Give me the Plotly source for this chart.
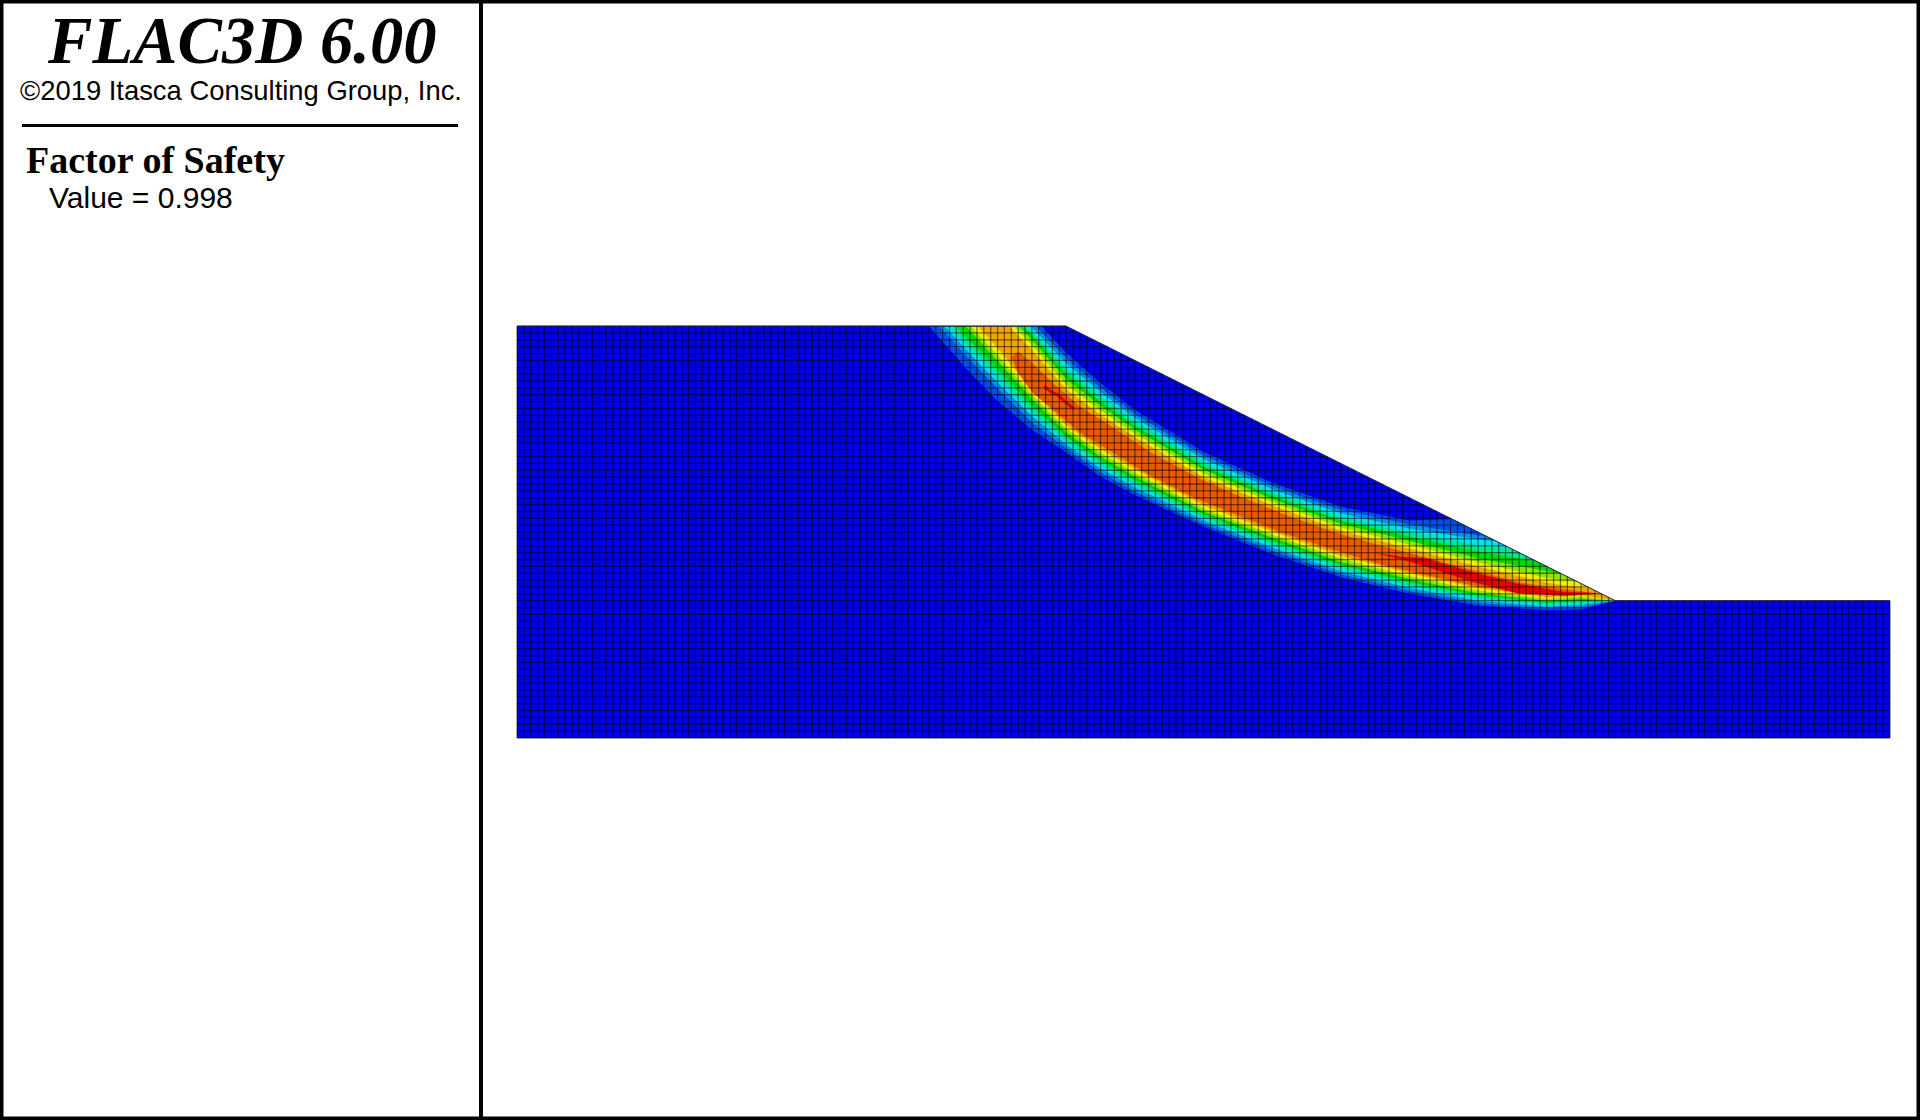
"""
FLAC3D 6.00 slope model: factor of safety run with the shear strain contour
on the zone mesh. Contour outlines were read off the original screen capture.
"""

import plotly.graph_objects as go

# =============================================================================
# DATA (model units: one zone = 1.0)
# =============================================================================

N_COLS = 200
N_ROWS = 60

SURFACE_X = [0, 80, 160, 200]
SURFACE_Y = [60, 60, 20, 20]

BAND_X = [55, 60, 65, 70, 75, 80, 85, 90, 100, 110, 120, 130, 140, 150, 155, 160]

# contour outlines, outermost level first; "upper" is the side facing the slope
L1_UPPER = [82.3, 77.1, 71.9, 66.7, 61.5, 56.1, 51.7, 47.8, 41.7, 37.2, 33.7, 31.7, 32, 32, 32, 32]
L1_LOWER = [65.6, 60, 54.3, 49.1, 44.9, 41.6, 38.1, 35.4, 30.8, 26.8, 23.4, 21, 19.3, 18.6, 18.7, 20]
L2_UPPER = [81.5, 76.3, 71.1, 65.9, 60.6, 55.3, 51, 47.2, 41.2, 36.7, 33.2, 31.1, 29.5, 29, 28, 27]
L2_LOWER = [67.2, 61.6, 56.1, 50.9, 46, 42.2, 38.7, 35.9, 31.2, 27.3, 23.85, 21.4, 19.65, 18.9, 19.05, 20]
L3_UPPER = [80.6, 75.4, 70.2, 65, 59.8, 54.6, 50.4, 46.65, 40.65, 36.25, 32.7, 30.5, 28.9, 28, 27, 26]
L3_LOWER = [68.1, 62.5, 57, 51.8, 46.9, 42.75, 39.25, 36.5, 31.7, 27.75, 24.3, 21.85, 20, 19.15, 19.4, 20]
L4_UPPER = [80, 74.8, 69.6, 64.4, 59.2, 53.8, 49.7, 46.1, 40.1, 35.8, 32.2, 29.9, 28, 27, 26, 25]
L4_LOWER = [68.9, 63.3, 57.9, 52.8, 47.6, 43.3, 39.8, 37, 32.1, 28.2, 24.75, 22.3, 20.4, 19.45, 19.7, 20]
L5_UPPER = [79.6, 74.4, 69.2, 64, 58.7, 53.1, 49.05, 45.5, 39.6, 35.3, 31.7, 29.35, 27.2, 25.5, 25, 24]
L5_LOWER = [69.9, 64.3, 58.8, 53.7, 48.4, 43.9, 40.4, 37.55, 32.55, 28.7, 25.2, 22.7, 20.75, 19.7, 20, 20]
L6_UPPER = [78.8, 73.6, 68.4, 63.2, 58, 52.3, 48.4, 44.9, 39.1, 34.8, 31.2, 28.75, 26.2, 24.3, 23.5, 23]
L6_LOWER = [71.5, 65.9, 60.4, 55, 49.4, 44.5, 41, 38.1, 33, 29.2, 25.65, 23.15, 21.1, 20, 20.3, 20]
L7_UPPER = [78.1, 72.9, 67.7, 62.5, 57.3, 51.5, 47.7, 44.35, 38.55, 34.35, 30.7, 28.2, 25.6, 23.3, 22.6, 22]
L7_LOWER = [72.3, 66.7, 61.2, 55.7, 50, 45.05, 41.55, 38.6, 33.4, 29.65, 26.1, 23.55, 21.5, 20.25, 20.6, 20]
L8_UPPER = [77.4, 72.2, 67, 61.8, 56.5, 50.8, 47.1, 43.8, 38, 33.9, 30.2, 27.6, 25, 22.6, 21.9, 21.5]
L8_LOWER = [73.5, 67.9, 62.3, 56.8, 50.7, 45.6, 42.1, 39.2, 33.9, 30.1, 26.55, 24, 21.85, 20.5, 20.8, 20]

CORE_X = [72, 73, 75, 78, 82, 85.5, 92, 99, 105.5, 112, 119, 125.5, 132, 139, 146, 152.5, 157.7]
CORE_UPPER = [55.5, 56.3, 54.7, 51.8, 48.3, 46.1, 41.8, 38, 35.1, 32.5, 30, 28.1, 26.4, 24.5, 22.7, 21.7, 21]
CORE_LOWER = [55.5, 53.2, 50.4, 47.9, 44.5, 42.4, 38.4, 34.8, 32.2, 29.7, 27.4, 25.4, 23.8, 22.3, 21.2, 20.6, 21]

PEAK_X = [124.9, 128.9, 132.3, 139, 145.7, 152.4, 157.7]
PEAK_UPPER = [27, 26.4, 26.2, 24.2, 22.5, 21.3, 21.1]
PEAK_LOWER = [27, 26, 25, 22.8, 21.1, 20.8, 21.1]

STREAK_X = [76.8, 77.8, 78.8, 79.8, 81.1]
STREAK_Y = [51.2, 50.4, 50, 49, 48]

LEVELS = [
    (L1_UPPER, L1_LOWER, '#0050e8'),
    (L2_UPPER, L2_LOWER, '#0094e8'),
    (L3_UPPER, L3_LOWER, '#00e4e4'),
    (L4_UPPER, L4_LOWER, '#00e890'),
    (L5_UPPER, L5_LOWER, '#00dc00'),
    (L6_UPPER, L6_LOWER, '#8ce800'),
    (L7_UPPER, L7_LOWER, '#f0f000'),
    (L8_UPPER, L8_LOWER, '#f0a800'),
]

BODY_BLUE = '#0000ea'
CORE_ORANGE = '#ea5a00'
PEAK_RED = '#e60000'
MESH_LINE = 'rgba(0, 0, 0, 0.5)'
EDGE_LINE = '#202050'

# page geometry, px
WIDTH = 1920
HEIGHT = 1120
MESH_LEFT = 517
MESH_BOTTOM = 738
ZONE_PX = 6.865


def surface_height(col):
    """Top of the model at a mesh column."""
    if col <= 80:
        return 60
    if col <= 160:
        return 60 - (col - 80) / 2
    return 20


def row_end(row):
    """Last column of a mesh row."""
    if row <= 20:
        return 200
    return 80 + (60 - row) * 2


# =============================================================================
# FIGURE
# =============================================================================

def add_band(fig, x, upper, lower, color):
    fig.add_trace(go.Scatter(
        x=list(x) + list(x)[::-1],
        y=list(upper) + list(lower)[::-1],
        mode='lines',
        line=dict(width=0),
        fill='toself',
        fillcolor=color,
        hoverinfo='skip',
        showlegend=False
    ))


def add_text(fig, text, px, py, family, size):
    fig.add_annotation(
        text=text, x=px / WIDTH, y=1 - py / HEIGHT,
        xref='paper', yref='paper', xanchor='left', yanchor='middle',
        showarrow=False, borderpad=0,
        font=dict(family=family, size=size, color='black')
    )


def paper_line(fig, x0, y0, x1, y1, width):
    fig.add_shape(
        type='line', xref='paper', yref='paper',
        x0=x0 / WIDTH, x1=x1 / WIDTH,
        y0=1 - y0 / HEIGHT, y1=1 - y1 / HEIGHT,
        line=dict(color='black', width=width)
    )


def create_figure():
    fig = go.Figure()

    # model body
    fig.add_trace(go.Scatter(
        x=SURFACE_X + [200, 0, 0],
        y=SURFACE_Y + [0, 0, 60],
        mode='lines',
        line=dict(width=0),
        fill='toself',
        fillcolor=BODY_BLUE,
        hoverinfo='skip',
        showlegend=False
    ))

    # contour levels, nested
    for upper, lower, color in LEVELS:
        add_band(fig, BAND_X, upper, lower, color)
    add_band(fig, CORE_X, CORE_UPPER, CORE_LOWER, CORE_ORANGE)
    add_band(fig, PEAK_X, PEAK_UPPER, PEAK_LOWER, PEAK_RED)
    fig.add_trace(go.Scatter(
        x=STREAK_X, y=STREAK_Y, mode='lines',
        line=dict(color=PEAK_RED, width=3),
        hoverinfo='skip', showlegend=False
    ))

    # contour outlines run past the ground line, white air on top trims them
    fig.add_trace(go.Scatter(
        x=SURFACE_X + [200, 0, 0],
        y=SURFACE_Y + [95, 95, 60],
        mode='lines',
        line=dict(width=0),
        fill='toself',
        fillcolor='white',
        hoverinfo='skip',
        showlegend=False
    ))

    # zone mesh
    mesh_x = []
    mesh_y = []
    for col in range(N_COLS + 1):
        mesh_x += [col, col, None]
        mesh_y += [0, surface_height(col), None]
    for row in range(N_ROWS + 1):
        mesh_x += [0, row_end(row), None]
        mesh_y += [row, row, None]
    fig.add_trace(go.Scatter(
        x=mesh_x, y=mesh_y, mode='lines',
        line=dict(color=MESH_LINE, width=1.3),
        hoverinfo='skip', showlegend=False
    ))

    # ground line
    fig.add_trace(go.Scatter(
        x=SURFACE_X, y=SURFACE_Y, mode='lines',
        line=dict(color=EDGE_LINE, width=1),
        hoverinfo='skip', showlegend=False
    ))

    # side panel and frame
    fig.add_shape(
        type='rect', xref='paper', yref='paper', x0=0, x1=1, y0=0, y1=1,
        line=dict(color='black', width=7)
    )
    paper_line(fig, 481, 0, 481, HEIGHT, 4)
    paper_line(fig, 22, 125.5, 458, 125.5, 3)

    add_text(fig, '<b><i>FLAC3D 6.00</i></b>', 46, 41, 'Liberation Serif', 66.6)
    add_text(fig, '©2019 Itasca Consulting Group, Inc.', 19, 90, 'Liberation Sans', 27.4)
    add_text(fig, '<b>Factor of Safety</b>', 25, 160, 'Liberation Serif', 38)
    add_text(fig, 'Value = 0.998', 48, 197, 'Liberation Sans', 30)

    fig.update_layout(
        width=WIDTH,
        height=HEIGHT,
        margin=dict(l=0, r=0, t=0, b=0),
        paper_bgcolor='white',
        plot_bgcolor='white',
        showlegend=False,
        xaxis=dict(
            visible=False,
            range=[-MESH_LEFT / ZONE_PX, (WIDTH - MESH_LEFT) / ZONE_PX]
        ),
        yaxis=dict(
            visible=False,
            range=[(MESH_BOTTOM - HEIGHT) / ZONE_PX, MESH_BOTTOM / ZONE_PX]
        )
    )
    return fig


def main():
    fig = create_figure()
    fig.write_html(
        "out.html",
        config=dict(displayModeBar=False),
        post_script="document.body.style.margin='0';document.documentElement.style.overflow='hidden';"
    )


if __name__ == '__main__':
    main()
